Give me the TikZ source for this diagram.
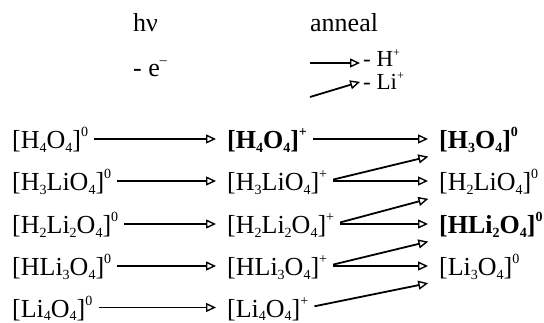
\documentclass[tikz,border=0pt]{standalone}
\usepackage{fontspec}
\setmainfont{Liberation Serif}
\usetikzlibrary{arrows.meta}
\usetikzlibrary{positioning}

\newcommand{\chemsub}[1]{\raisebox{-0.13em}{\fontsize{14}{14}\selectfont #1}}
\newcommand{\chemsup}[1]{\raisebox{0.47em}{\fontsize{14}{14}\selectfont #1}}

\tikzset{
  species/.style={anchor=west,inner xsep=0pt,inner ysep=0pt,text height=25pt,text depth=5pt,font=\fontsize{26}{31}\selectfont},
  legend/.style={anchor=base west,inner sep=0pt,font=\fontsize{26}{31}\selectfont},
  loss/.style={anchor=base west,inner sep=0pt,text height=15pt,text depth=0pt,font=\fontsize{23}{27}\selectfont},
  rxn/.style={line width=1.8pt,-{Triangle[open,length=10pt,width=9pt,line width=1.4pt]},shorten <=6pt,shorten >=11pt},
}

\begin{document}
\begin{tikzpicture}[x=1pt,y=-1pt]
\useasboundingbox (0,0) rectangle (544,323);
% legend
\node[legend] (hnu) at (133,32) {hν};
\node[legend] (el) at (133,77) {- e\chemsup{–}};
\node[legend] (ann) at (310,32) {anneal};
\node[loss] (hp) at (363,67) {- H\raisebox{0.45em}{\fontsize{12}{12}\selectfont +}};
\node[loss] (lp) at (363,90) {- Li\raisebox{0.45em}{\fontsize{12}{12}\selectfont +}};
\coordinate (k1) at (310,63);
\coordinate (k2) at (310,97);
\draw[rxn,shorten <=0pt,shorten >=3pt] (k1) -- ([yshift=4pt]hp.base west);
\draw[rxn,shorten <=0pt,shorten >=3pt] (k2) -- ([yshift=9pt]lp.base west);

% neutral clusters
\node[species] (l1) at (12,139) {[H\chemsub{4}O\chemsub{4}]\chemsup{0}};
\node[species] (l2) at (12,181) {[H\chemsub{3}LiO\chemsub{4}]\chemsup{0}};
\node[species] (l3) at (12,224) {[H\chemsub{2}Li\chemsub{2}O\chemsub{4}]\chemsup{0}};
\node[species] (l4) at (12,266) {[HLi\chemsub{3}O\chemsub{4}]\chemsup{0}};
\node[species] (l5) at (12,307.5) {[Li\chemsub{4}O\chemsub{4}]\chemsup{0}};

% cations
\node[species] (m1) at (227,139) {\textbf{[H\chemsub{4}O\chemsub{4}]\chemsup{+}}};
\node[species] (m2) at (227,181) {[H\chemsub{3}LiO\chemsub{4}]\chemsup{+}};
\node[species] (m3) at (227,224) {[H\chemsub{2}Li\chemsub{2}O\chemsub{4}]\chemsup{+}};
\node[species] (m4) at (227,266) {[HLi\chemsub{3}O\chemsub{4}]\chemsup{+}};
\node[species] (m5) at (227,307.5) {[Li\chemsub{4}O\chemsub{4}]\chemsup{+}};

% products
\node[species] (r1) at (439,139) {\textbf{[H\chemsub{3}O\chemsub{4}]\chemsup{0}}};
\node[species] (r2) at (439,181) {[H\chemsub{2}LiO\chemsub{4}]\chemsup{0}};
\node[species] (r3) at (439,224) {\textbf{[HLi\chemsub{2}O\chemsub{4}]\chemsup{0}}};
\node[species] (r4) at (439,266) {[Li\chemsub{3}O\chemsub{4}]\chemsup{0}};

% ionisation
\draw[rxn] (l1.east) -- (m1.west);
\draw[rxn] (l2.east) -- (m2.west);
\draw[rxn] (l3.east) -- (m3.west);
\draw[rxn] (l4.east) -- (m4.west);
\draw[rxn] (l5.east) -- (m5.west);

% loss of H+
\draw[rxn] (m1.east) -- (r1.west);
\draw[rxn] (m2.east) -- (r2.west);
\draw[rxn] (m3.east) -- (r3.west);
\draw[rxn] (m4.east) -- (r4.west);

% loss of Li+
\draw[rxn] (m2.east) -- ([yshift=-15pt]r1.west);
\draw[rxn] (m3.east) -- ([yshift=-15pt]r2.west);
\draw[rxn] (m4.east) -- ([yshift=-15pt]r3.west);
\draw[rxn] (m5.east) -- ([yshift=-15pt]r4.west);

\end{tikzpicture}
\end{document}
